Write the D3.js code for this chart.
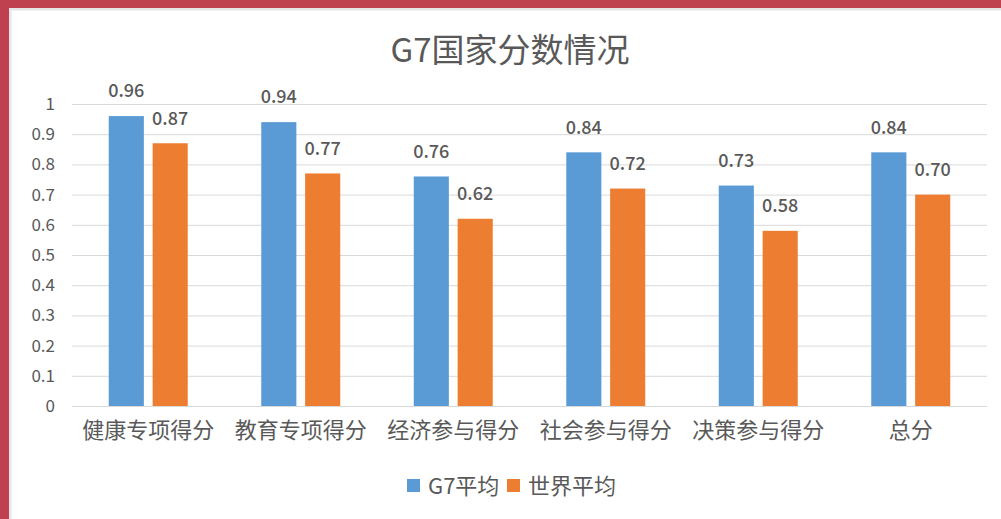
<!DOCTYPE html>
<html>
<head>
<meta charset="utf-8">
<script src="https://cdn.jsdelivr.net/npm/d3@7"></script>
<style>
  body { margin: 0; background: #fff; }
  text { font-family: "Noto Sans CJK SC", "Noto Sans", sans-serif; fill: #595959; }
</style>
</head>
<body>
<div id="chart"></div>
<script>
const categories = ["健康专项得分", "教育专项得分", "经济参与得分", "社会参与得分", "决策参与得分", "总分"];
const seriesNames = ["G7平均", "世界平均"];
const g7Values = [0.96, 0.94, 0.76, 0.84, 0.73, 0.84];
const worldValues = [0.87, 0.77, 0.62, 0.72, 0.58, 0.70];
const yTicks = [0, 0.1, 0.2, 0.3, 0.4, 0.5, 0.6, 0.7, 0.8, 0.9, 1];
const colors = ["#5B9BD5", "#ED7D31"];

const width = 1001;
const height = 519;
const plot = {"left": 72, "right": 987, "top": 104, "bottom": 406};

const svg = d3.select("#chart").append("svg")
  .attr("width", width)
  .attr("height", height);

// red frame around the chart card
svg.append("rect").attr("width", width).attr("height", height).attr("fill", "#BF404F");
svg.append("rect").attr("x", 9).attr("y", 8).attr("width", width - 9).attr("height", height - 8).attr("fill", "#e6e6e6");
svg.append("rect").attr("x", 11).attr("y", 10).attr("width", width - 11).attr("height", height - 10).attr("fill", "#f2f2f2");
svg.append("rect").attr("x", 12).attr("y", 11).attr("width", width - 12).attr("height", height - 11).attr("fill", "#ffffff");

let x0 = d3.scaleBand()
  .domain(categories)
  .range([plot.left, plot.right])
  .paddingInner(0.482)
  .paddingOuter(0.241);

let x1 = d3.scaleBand()
  .domain(seriesNames)
  .range([0, x0.bandwidth()])
  .paddingInner(0.2);

let y = d3.scaleLinear()
  .domain([0, 1])
  .range([plot.bottom, plot.top]);

svg.append("text")
  .attr("x", 510)
  .attr("y", 50)
  .attr("dy", "0.35em")
  .attr("text-anchor", "middle")
  .style("font-size", "33px")
  .text("G7国家分数情况");

// gridlines + y labels
let yAxis = d3.axisLeft(y)
  .tickValues(yTicks)
  .tickSize(-(plot.right - plot.left))
  .tickPadding(17)
  .tickFormat(d => d3.format("")(+d.toFixed(1)));

let gY = svg.append("g")
  .attr("transform", "translate(" + plot.left + ",0)")
  .call(yAxis);
gY.select(".domain").remove();
gY.selectAll(".tick line").attr("stroke", "#d9d9d9").attr("stroke-width", 1);
gY.selectAll(".tick text").style("font-size", "17px").attr("fill", "#595959");

// category labels
let xAxis = d3.axisBottom(x0).tickSize(0).tickPadding(16);
let gX = svg.append("g")
  .attr("transform", "translate(0," + plot.bottom + ")")
  .call(xAxis);
gX.select(".domain").remove();
gX.selectAll(".tick text").style("font-size", "22px").attr("fill", "#595959");

const table = categories.map((c, i) => ({"cat": c, "vals": [g7Values[i], worldValues[i]]}));

let groups = svg.selectAll(".group")
  .data(table)
  .enter()
  .append("g")
  .attr("class", "group")
  .attr("transform", d => "translate(" + x0(d.cat) + ",0)");

let bars = groups.selectAll(".bar")
  .data(d => d.vals.map((v, i) => ({"name": seriesNames[i], "value": v, "i": i})))
  .enter();

bars.append("rect")
  .attr("x", d => x1(d.name))
  .attr("width", x1.bandwidth())
  .attr("y", d => y(d.value))
  .attr("height", d => y(0) - y(d.value))
  .attr("fill", d => colors[d.i]);

bars.append("text")
  .attr("x", d => x1(d.name) + x1.bandwidth() / 2)
  .attr("y", d => y(d.value) - 25)
  .attr("dy", "0.35em")
  .attr("text-anchor", "middle")
  .style("font-size", "18px")
  .style("font-weight", "500")
  .attr("fill", "#404040")
  .text(d => d3.format(".2f")(d.value));

// legend
const legendX = [407, 507];
let legend = svg.selectAll(".legend")
  .data(seriesNames)
  .enter()
  .append("g")
  .attr("class", "legend")
  .attr("transform", (d, i) => "translate(" + legendX[i] + ",479)");
legend.append("rect")
  .attr("width", 13)
  .attr("height", 13)
  .attr("fill", (d, i) => colors[i]);
legend.append("text")
  .attr("x", 21)
  .attr("y", 7)
  .attr("dy", "0.35em")
  .style("font-size", "22px")
  .text(d => d);
</script>
</body>
</html>
